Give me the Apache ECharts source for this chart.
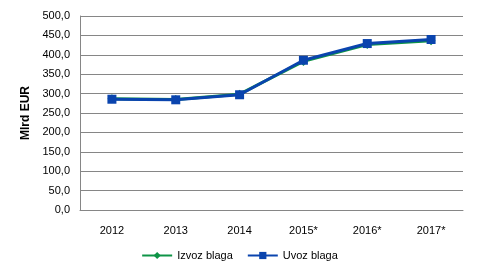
<!DOCTYPE html>
<html>
<head>
<meta charset="utf-8">
<script src="https://cdn.jsdelivr.net/npm/echarts@6/dist/echarts.min.js"></script>
<style>
  html, body { margin: 0; padding: 0; background: #fff; }
  #chart { width: 479px; height: 276px; }
</style>
</head>
<body>
<div id="chart"></div>
<script>
// podaci
const years = ['2012', '2013', '2014', '2015*', '2016*', '2017*'];
const izvoz = [287.0, 284.5, 298.5, 383.0, 426.5, 436.5];
const uvoz = [285.5, 284.0, 297.0, 386.0, 429.0, 439.5];

const chart = echarts.init(document.getElementById('chart'));

const option = {
    animation: false,
    textStyle: { fontFamily: 'Liberation Sans' },
    grid: { left: 80, right: 16, top: 16, bottom: 66 },
    legend: {
        bottom: 10,
        left: 'center',
        itemWidth: 30,
        itemHeight: 9,
        itemGap: 14,
        textStyle: { fontSize: 11, color: '#000' },
        data: ['Izvoz blaga', 'Uvoz blaga']
    },
    xAxis: {
        type: 'category',
        data: years,
        axisLine: { lineStyle: { color: '#868686' } },
        axisTick: { show: false },
        axisLabel: { color: '#000', fontSize: 11, margin: 15 }
    },
    yAxis: {
        type: 'value',
        min: 0,
        max: 500,
        interval: 50,
        name: 'Mlrd EUR',
        nameLocation: 'middle',
        nameGap: 48,
        nameTextStyle: { fontWeight: 'bold', fontSize: 12, color: '#000' },
        axisLine: { show: true, lineStyle: { color: '#868686' } },
        axisLabel: {
            color: '#000',
            fontSize: 11,
            margin: 10,
            formatter: v => v.toFixed(1).replace('.', ',')
        },
        splitLine: { lineStyle: { color: '#868686' } }
    },
    series: [
        {
            name: 'Izvoz blaga',
            type: 'line',
            data: izvoz,
            symbol: 'diamond',
            symbolSize: 9,
            lineStyle: { color: '#0e9447', width: 3 },
            itemStyle: { color: '#0e9447' }
        },
        {
            name: 'Uvoz blaga',
            type: 'line',
            data: uvoz,
            symbol: 'rect',
            symbolSize: 9,
            lineStyle: { color: '#0a44ae', width: 3 },
            itemStyle: { color: '#0a44ae' }
        }
    ]
};

chart.setOption(option);
</script>
</body>
</html>
